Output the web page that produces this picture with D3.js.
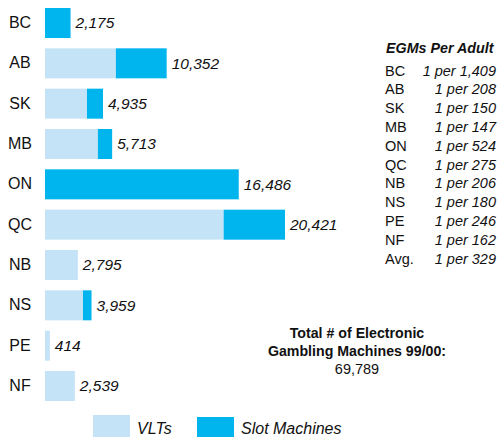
<!DOCTYPE html>
<html>
<head>
<meta charset="utf-8">
<script src="https://cdn.jsdelivr.net/npm/d3@7"></script>
<style>
  html, body { margin: 0; padding: 0; background: #fff; }
  svg { display: block; font-family: Arial, "Liberation Sans", sans-serif; }
</style>
</head>
<body>
<svg id="chart" width="501" height="437"></svg>
<script>
const provinces = ["BC", "AB", "SK", "MB", "ON", "QC", "NB", "NS", "PE", "NF"];
const vlts  = [0, 6030, 3570, 4500, 0, 15200, 2795, 3230, 414, 2539];
const slots = [2175, 4322, 1365, 1213, 16486, 5221, 0, 729, 0, 0];
const totalLabels = ["2,175", "10,352", "4,935", "5,713", "16,486", "20,421", "2,795", "3,959", "414", "2,539"];
const egmRows = ["BC", "AB", "SK", "MB", "ON", "QC", "NB", "NS", "PE", "NF", "Avg."];
const egmRates = ["1 per 1,409", "1 per 208", "1 per 150", "1 per 147", "1 per 524", "1 per 275", "1 per 206", "1 per 180", "1 per 246", "1 per 162", "1 per 329"];
const legendLabels = ["VLTs", "Slot Machines"];
const totalTitle = ["Total # of Electronic", "Gambling Machines 99/00:"];
const totalValue = "69,789";

const colVLT = "#c5e3f7";
const colSlot = "#00b4ed";

const svg = d3.select("#chart");

const x = d3.scaleLinear().domain([0, 20421]).range([45, 285]);
const y = d3.scaleBand().domain(provinces).range([8, 401]).paddingInner(0.256).paddingOuter(0);

const rows = provinces.map((p, i) => ({ p, v: vlts[i], s: slots[i], label: totalLabels[i] }));

const g = svg.append("g");
g.selectAll("rect.vlt").data(rows.filter(d => d.v > 0)).join("rect")
  .attr("class", "vlt")
  .attr("x", x(0))
  .attr("y", d => y(d.p))
  .attr("width", d => x(d.v) - x(0))
  .attr("height", y.bandwidth())
  .attr("fill", colVLT);
g.selectAll("rect.slot").data(rows.filter(d => d.s > 0)).join("rect")
  .attr("class", "slot")
  .attr("x", d => x(d.v))
  .attr("y", d => y(d.p))
  .attr("width", d => x(d.v + d.s) - x(d.v))
  .attr("height", y.bandwidth())
  .attr("fill", colSlot);

const yAxis = d3.axisLeft(y).tickSize(0).tickPadding(0);
const ax = svg.append("g").attr("transform", "translate(20,0)").call(yAxis);
ax.select(".domain").remove();
ax.selectAll("text")
  .attr("text-anchor", "middle")
  .attr("font-family", "Arial, 'Liberation Sans', sans-serif")
  .attr("font-size", 16)
  .attr("fill", "#111");

g.selectAll("text.val").data(rows).join("text")
  .attr("class", "val")
  .attr("x", d => x(d.v + d.s) + 5)
  .attr("y", d => y(d.p) + y.bandwidth() / 2)
  .attr("dy", "0.35em")
  .attr("font-size", 15.5)
  .attr("font-style", "italic")
  .attr("fill", "#111")
  .text(d => d.label);

const t = svg.append("g");
t.append("text")
  .attr("x", 386).attr("y", 53)
  .attr("font-size", 14.3).attr("font-weight", "bold").attr("font-style", "italic")
  .attr("fill", "#111")
  .text("EGMs Per Adult");
const rowY = i => 75.5 + i * 18.8;
t.selectAll("text.code").data(egmRows).join("text")
  .attr("class", "code")
  .attr("x", 385).attr("y", (d, i) => rowY(i))
  .attr("font-size", 14.5).attr("fill", "#111")
  .text(d => d);
t.selectAll("text.rate").data(egmRates).join("text")
  .attr("class", "rate")
  .attr("x", 496).attr("y", (d, i) => rowY(i))
  .attr("text-anchor", "end")
  .attr("font-size", 14.5).attr("font-style", "italic").attr("fill", "#111")
  .text(d => d);

const tot = svg.append("g");
tot.selectAll("text.tt").data(totalTitle).join("text")
  .attr("class", "tt")
  .attr("x", 357).attr("y", (d, i) => 338 + i * 17.5)
  .attr("text-anchor", "middle")
  .attr("font-size", 14.2).attr("font-weight", "bold").attr("fill", "#111")
  .text(d => d);
tot.append("text")
  .attr("x", 357).attr("y", 374)
  .attr("text-anchor", "middle")
  .attr("font-size", 14.5).attr("fill", "#111")
  .text(totalValue);

const leg = svg.append("g");
const legItems = [
  { label: legendLabels[0], color: colVLT, x: 93, y: 415 },
  { label: legendLabels[1], color: colSlot, x: 197, y: 417 }
];
leg.selectAll("rect").data(legItems).join("rect")
  .attr("x", d => d.x).attr("y", d => d.y)
  .attr("width", 37).attr("height", d => 437 - d.y)
  .attr("fill", d => d.color);
leg.selectAll("text").data(legItems).join("text")
  .attr("x", d => d.x + 44).attr("y", 434)
  .attr("font-size", 16).attr("font-style", "italic").attr("fill", "#111")
  .text(d => d.label);
</script>
</body>
</html>
